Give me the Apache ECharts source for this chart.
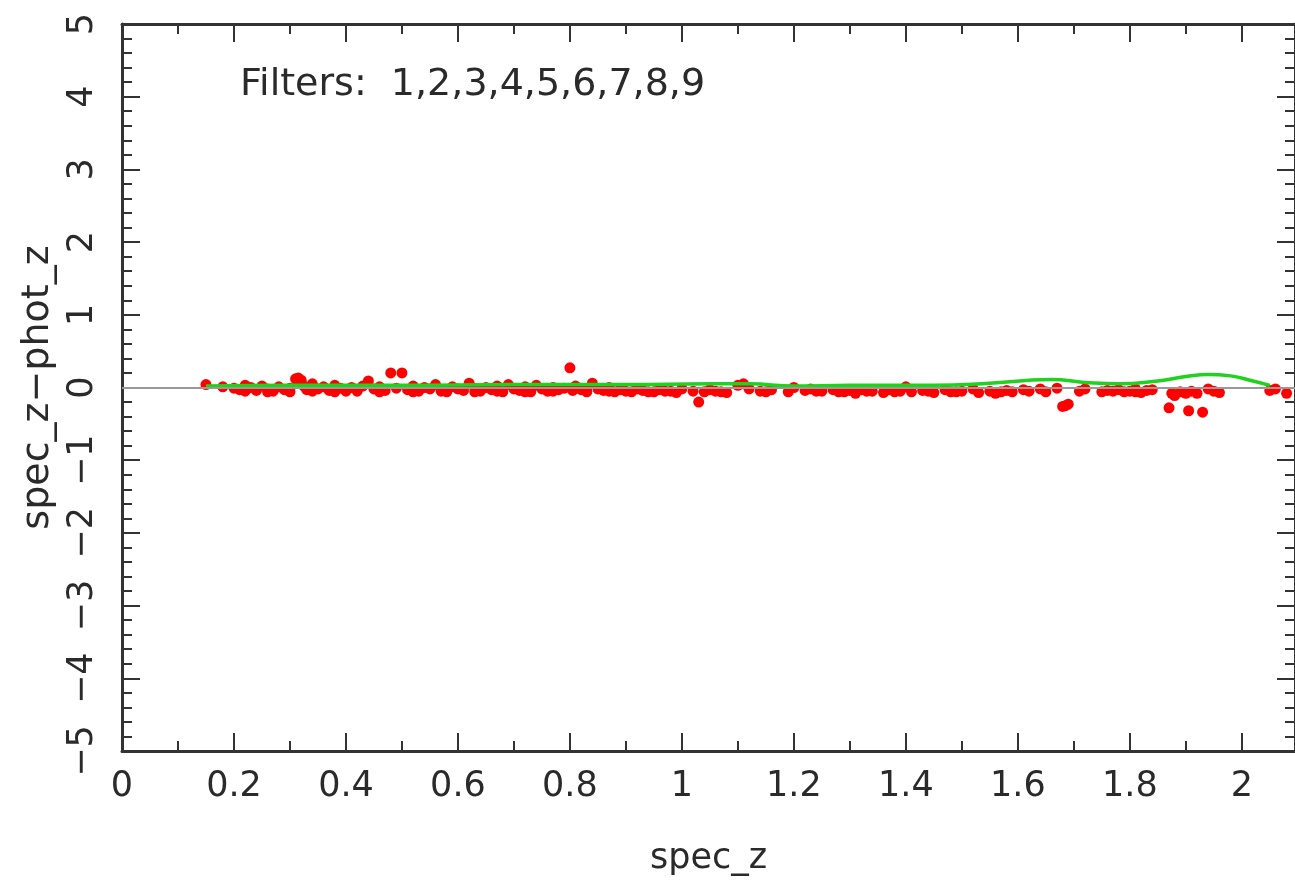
<!DOCTYPE html>
<html>
<head>
<meta charset="utf-8">
<script src="https://cdn.jsdelivr.net/npm/echarts@6/dist/echarts.min.js"></script>
<style>
  html, body { margin: 0; padding: 0; background: #fff; }
  #chart { width: 1295px; height: 882px; }
</style>
</head>
<body>
<div id="chart"></div>
<script>
  // photometric redshift residuals
  var specZ = [0.15, 0.18, 0.2, 0.21, 0.22, 0.23, 0.24, 0.25, 0.26, 0.27, 0.28, 0.29, 0.3, 0.31, 0.315, 0.32, 0.325, 0.33, 0.34, 0.35,
    0.36, 0.37, 0.38, 0.39, 0.4, 0.41, 0.42, 0.43, 0.44, 0.45, 0.46, 0.47, 0.48, 0.49, 0.5, 0.51, 0.52, 0.53, 0.54, 0.55,
    0.56, 0.57, 0.58, 0.59, 0.6, 0.61, 0.62, 0.63, 0.64, 0.65, 0.66, 0.67, 0.68, 0.69, 0.7, 0.71, 0.72, 0.73, 0.74, 0.75,
    0.76, 0.77, 0.78, 0.79, 0.8, 0.805, 0.81, 0.82, 0.83, 0.84, 0.85, 0.86, 0.87, 0.88, 0.89, 0.9, 0.92, 0.93, 0.95, 0.96,
    0.97, 0.99, 1.0, 1.02, 1.03, 1.04, 1.05, 1.06, 1.08, 1.1, 1.11, 1.12, 1.14, 1.16, 1.19, 1.2, 1.22, 1.23, 1.25, 1.27,
    1.29, 1.3, 1.31, 1.32, 1.34, 1.36, 1.37, 1.39, 1.4, 1.41, 1.43, 1.45, 1.47, 1.48, 1.5, 1.52, 1.53, 1.55, 1.56, 1.58,
    1.59, 1.61, 1.62, 1.64, 1.65, 1.67, 1.68, 1.685, 1.69, 1.71, 1.72, 1.75, 1.76, 1.78, 1.79, 1.8, 1.81, 1.82, 1.83, 1.84,
    1.87, 1.875, 1.88, 1.89, 1.9, 1.905, 1.91, 1.92, 1.93, 1.94, 1.95, 1.96, 2.05, 2.06, 2.08,
    0.22, 0.26, 0.3, 0.34, 0.38, 0.42, 0.46, 0.52, 0.57, 0.63, 0.67, 0.72, 0.77, 0.83, 0.87, 0.91, 0.94, 0.98, 1.07, 1.15,
    1.24, 1.28, 1.33, 1.38, 1.44, 1.49, 1.57, 1.77, 1.81];
  var residual = [0.04, 0.01, -0.01, -0.03, 0.03, 0.0, -0.04, 0.02, -0.02, -0.05, 0.01, -0.03, -0.01, 0.12, 0.13, 0.1, 0.02, -0.03, 0.05, -0.02,
    0.01, -0.04, 0.03, -0.01, -0.05, 0.0, -0.03, 0.02, 0.09, -0.02, 0.01, -0.04, 0.2, -0.01, 0.2, -0.03, 0.02, -0.05, 0.0, -0.02,
    0.04, -0.03, -0.06, 0.01, -0.02, -0.04, 0.06, -0.01, -0.05, 0.0, -0.03, 0.02, -0.06, 0.04, -0.02, -0.04, 0.01, -0.06, 0.03, -0.02,
    -0.05, 0.0, -0.03, -0.01, 0.27, -0.04, 0.02, -0.03, -0.05, 0.06, -0.02, -0.04, 0.0, -0.06, -0.03, -0.05, -0.02, -0.04, -0.06, -0.03,
    -0.05, -0.07, -0.02, -0.05, -0.2, -0.06, -0.03, -0.05, -0.07, 0.03, 0.05, -0.02, -0.05, -0.03, -0.06, 0.0, -0.04, -0.02, -0.05, -0.03,
    -0.06, -0.04, -0.08, -0.03, -0.05, -0.07, -0.03, -0.05, 0.01, -0.06, -0.04, -0.07, -0.03, -0.06, -0.05, -0.02, -0.07, -0.05, -0.08, -0.04,
    -0.06, -0.03, -0.05, -0.02, -0.06, -0.01, -0.26, -0.25, -0.23, -0.05, -0.02, -0.06, -0.04, -0.03, -0.06, -0.05, -0.02, -0.07, -0.04, -0.03,
    -0.28, -0.08, -0.11, -0.06, -0.08, -0.32, -0.05, -0.08, -0.34, -0.02, -0.05, -0.07, -0.04, -0.02, -0.08,
    -0.05, -0.06, -0.06, -0.05, -0.06, -0.05, -0.06, -0.06, -0.05, -0.06, -0.05, -0.06, -0.05, -0.06, -0.05, -0.06, -0.06, -0.05, -0.06, -0.06,
    -0.05, -0.06, -0.05, -0.06, -0.05, -0.06, -0.06, -0.05, -0.06];

  // smoothed running mean (green curve)
  var meanX = [0.15, 0.3, 0.5, 0.7, 0.9, 1.05, 1.12, 1.2, 1.3, 1.45, 1.55, 1.62, 1.66, 1.72, 1.78, 1.85, 1.9, 1.94, 1.98, 2.02, 2.05];
  var meanY = [0.02, 0.03, 0.03, 0.04, 0.04, 0.05, 0.05, 0.02, 0.03, 0.03, 0.06, 0.1, 0.11, 0.07, 0.05, 0.09, 0.15, 0.18, 0.16, 0.09, 0.03];

  var filterText = 'Filters:  1,2,3,4,5,6,7,8,9';

  var points = specZ.map(function (x, i) { return [x, residual[i]]; });
  var meanLine = meanX.map(function (x, i) { return [x, meanY[i]]; });

  var fontFamily = 'DejaVu Sans';
  var textColor = '#2a2a2a';
  var axisColor = '#333';

  function xAxisDef(pos, show) {
    return {
      type: 'value', position: pos, min: 0, max: 2.095, interval: 0.2,
      axisLine: { onZero: false, lineStyle: { color: axisColor, width: 3 } },
      axisTick: { inside: true, length: 18, lineStyle: { color: axisColor, width: 2 } },
      minorTick: { show: true, splitNumber: 2, length: 10, lineStyle: { color: axisColor, width: 2 } },
      splitLine: { show: false },
      axisLabel: {
        show: show, margin: 18, showMaxLabel: false, color: textColor,
        fontFamily: fontFamily, fontSize: 35,
        formatter: function (v) { return String(+v.toFixed(1)); }
      },
      name: show ? 'spec_z' : '', nameLocation: 'middle', nameGap: 90,
      nameTextStyle: { color: textColor, fontFamily: fontFamily, fontSize: 35 }
    };
  }

  function yAxisDef(pos, show) {
    return {
      type: 'value', position: pos, min: -5, max: 5, interval: 1,
      axisLine: { onZero: false, lineStyle: { color: axisColor, width: 3 } },
      axisTick: { inside: true, length: 18, lineStyle: { color: axisColor, width: 2 } },
      minorTick: { show: true, splitNumber: 5, length: 10, lineStyle: { color: axisColor, width: 2 } },
      splitLine: { show: false },
      axisLabel: {
        show: show, margin: 22, rotate: 90, color: textColor,
        fontFamily: fontFamily, fontSize: 35,
        formatter: function (v) { return v < 0 ? '\u2212' + (-v) : String(v); }
      },
      name: show ? 'spec_z\u2212phot_z' : '', nameLocation: 'middle', nameGap: 62,
      nameTextStyle: { color: textColor, fontFamily: fontFamily, fontSize: 38 }
    };
  }

  var chart = echarts.init(document.getElementById('chart'));
  chart.setOption({
    animation: false,
    grid: { left: 122, right: 0, top: 24, bottom: 131 },
    xAxis: [xAxisDef('bottom', true), xAxisDef('top', false)],
    yAxis: [yAxisDef('left', true), yAxisDef('right', false)],
    graphic: [{
      type: 'text', left: 240, top: 66,
      style: { text: filterText, fill: textColor, font: '38px "DejaVu Sans"' }
    }],
    series: [
      {
        type: 'scatter',
        data: points,
        symbolSize: 11,
        itemStyle: { color: '#ff0000', opacity: 1 },
        markLine: {
          silent: true, symbol: 'none', label: { show: false },
          lineStyle: { color: '#999', width: 2, type: 'solid' },
          data: [{ yAxis: 0 }]
        },
        z: 2
      },
      {
        type: 'line',
        data: meanLine,
        smooth: true,
        showSymbol: false,
        lineStyle: { color: '#1ed21e', width: 3.5 },
        z: 3
      }
    ]
  });
</script>
</body>
</html>
